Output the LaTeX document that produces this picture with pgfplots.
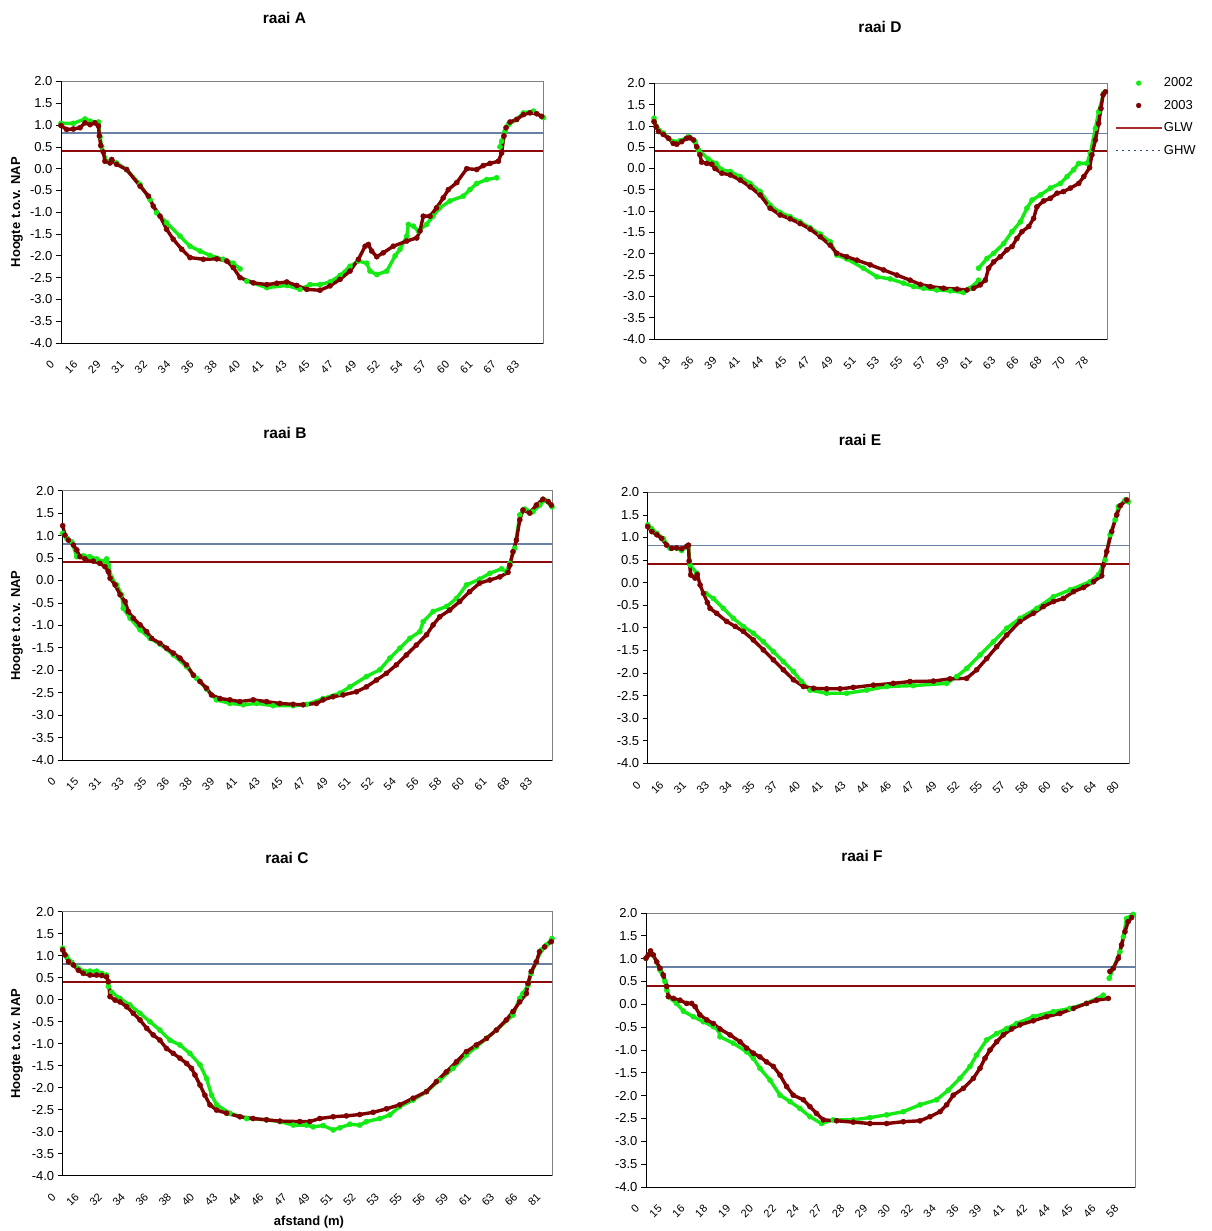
\documentclass[border=0pt]{standalone}
\usepackage{fontspec}
\setmainfont{Liberation Sans}
\usepackage{pgfplots}
\usepackage{pgfplotstable}
\pgfplotsset{compat=1.18}

\definecolor{cg}{RGB}{20,235,20}
\definecolor{cr}{RGB}{128,0,0}
\definecolor{ghw}{RGB}{105,128,165}
\definecolor{glw}{RGB}{140,10,10}
\definecolor{frame}{RGB}{128,128,128}
\definecolor{glwleg}{RGB}{165,45,45}
\definecolor{ghwleg}{RGB}{50,75,130}

\newcommand{\tickfont}{\fontsize{13}{15}\selectfont}
\newcommand{\xtickfont}{\fontsize{11}{12.5}\selectfont}

% ---------------- raai A ----------------
\pgfplotstableread{
x y
0 1.04
0.53 1.04
1.03 1.14
1.25 1.09
1.61 1.07
1.68 0.73
1.75 0.50
1.96 0.17
2.39 0.13
2.82 -0.02
3.40 -0.36
3.83 -0.71
4.11 -1.01
4.54 -1.24
5.12 -1.55
5.55 -1.78
5.98 -1.89
6.41 -1.99
6.98 -2.08
7.41 -2.17
7.70 -2.30
nan nan
7.99 -2.58
8.85 -2.73
9.71 -2.68
10.28 -2.77
10.71 -2.66
11.14 -2.66
11.57 -2.60
12.00 -2.45
12.43 -2.24
12.79 -2.12
13.15 -2.17
13.29 -2.35
13.58 -2.43
14.01 -2.35
14.37 -2.00
14.58 -1.85
14.87 -1.55
14.94 -1.28
15.16 -1.32
15.37 -1.43
15.72 -1.28
16.00 -1.09
16.29 -0.90
16.73 -0.74
17.30 -0.63
17.59 -0.48
17.88 -0.34
18.31 -0.25
18.74 -0.21
nan nan
18.88 0.50
18.95 0.63
19.10 0.86
19.24 1.01
19.60 1.13
19.89 1.28
20.32 1.32
20.75 1.17
}\tAg
\pgfplotstableread{
x y
0 0.99
0.24 0.90
0.53 0.91
0.82 0.94
1.03 1.05
1.25 1.01
1.46 1.05
1.61 0.98
1.65 0.75
1.71 0.53
1.82 0.38
1.89 0.17
2.11 0.13
2.18 0.21
2.39 0.10
2.82 -0.02
3.40 -0.40
3.76 -0.63
3.97 -0.86
4.26 -1.09
4.54 -1.39
4.83 -1.62
5.19 -1.85
5.55 -2.04
6.12 -2.08
6.70 -2.07
7.13 -2.12
7.41 -2.27
7.70 -2.50
8.27 -2.62
8.85 -2.66
9.28 -2.63
9.71 -2.60
10.14 -2.68
10.57 -2.77
11.14 -2.79
11.57 -2.69
12.00 -2.54
12.43 -2.35
12.79 -2.08
13.08 -1.78
13.22 -1.74
13.36 -1.89
13.58 -2.02
13.86 -1.93
14.29 -1.78
14.87 -1.66
15.30 -1.59
15.44 -1.43
15.58 -1.09
15.87 -1.09
16.15 -0.90
16.44 -0.67
16.66 -0.48
17.02 -0.32
17.45 0.00
17.88 -0.02
18.16 0.07
18.45 0.12
18.81 0.17
18.95 0.36
19.05 0.75
19.14 0.94
19.31 1.07
19.60 1.13
19.89 1.24
20.17 1.28
20.46 1.26
20.67 1.20
}\tAr

% ---------------- raai D ----------------
\pgfplotstableread{
x y
0 1.18
0.11 0.98
0.40 0.83
0.83 0.63
1.12 0.65
1.48 0.75
1.77 0.63
1.91 0.44
2.34 0.22
2.67 0.12
2.92 -0.03
3.28 -0.07
3.71 -0.19
4.14 -0.35
4.57 -0.54
5.00 -0.86
5.43 -1.03
5.86 -1.13
6.29 -1.25
6.72 -1.39
7.16 -1.54
7.59 -1.72
7.87 -2.03
8.30 -2.12
9.02 -2.34
9.60 -2.54
10.17 -2.59
10.75 -2.69
11.18 -2.77
11.61 -2.81
12.18 -2.85
12.76 -2.87
13.33 -2.91
13.62 -2.81
13.98 -2.62
nan nan
13.98 -2.34
14.34 -2.11
14.63 -1.99
15.06 -1.76
15.42 -1.48
15.78 -1.25
16.06 -0.93
16.28 -0.74
16.64 -0.62
17.07 -0.46
17.50 -0.35
17.79 -0.19
18.07 -0.03
18.29 0.12
18.65 0.12
18.79 0.36
19.01 0.94
19.15 1.33
19.37 1.77
}\tDg
\pgfplotstableread{
x y
0 1.10
0.09 0.98
0.19 0.87
0.40 0.80
0.62 0.71
0.83 0.59
0.98 0.57
1.19 0.63
1.41 0.71
1.55 0.72
1.70 0.67
1.84 0.51
1.98 0.32
2.05 0.15
2.27 0.12
2.49 0.10
2.63 0.00
2.92 -0.11
3.28 -0.15
3.71 -0.27
4.14 -0.43
4.57 -0.62
5.00 -0.93
5.43 -1.09
5.86 -1.18
6.29 -1.29
6.72 -1.42
7.16 -1.60
7.59 -1.80
7.87 -1.99
8.30 -2.07
8.74 -2.15
9.31 -2.26
9.89 -2.38
10.46 -2.50
11.03 -2.62
11.47 -2.72
11.90 -2.77
12.47 -2.81
13.05 -2.83
13.48 -2.85
13.76 -2.81
14.05 -2.73
14.27 -2.62
14.41 -2.34
14.63 -2.19
14.91 -2.07
15.20 -1.91
15.42 -1.83
15.63 -1.64
15.85 -1.48
16.14 -1.36
16.35 -1.17
16.49 -0.90
16.78 -0.76
17.07 -0.70
17.36 -0.58
17.64 -0.54
17.93 -0.46
18.29 -0.35
18.51 -0.19
18.76 0.02
18.86 0.32
19.01 0.67
19.15 1.06
19.25 1.41
19.34 1.73
19.44 1.80
}\tDr

% ---------------- raai B ----------------
\pgfplotstableread{
x y
0 1.05
0.18 0.94
0.40 0.86
0.62 0.53
0.91 0.55
1.20 0.53
1.50 0.48
1.79 0.42
1.94 0.48
2.01 0.34
2.16 0.05
2.38 -0.10
2.60 -0.32
2.67 -0.62
2.97 -0.84
3.41 -1.10
3.85 -1.29
4.29 -1.42
4.88 -1.66
5.46 -1.92
5.90 -2.18
6.34 -2.42
6.78 -2.66
7.37 -2.74
7.96 -2.77
8.55 -2.74
9.28 -2.79
10.16 -2.79
10.75 -2.76
11.48 -2.63
12.22 -2.51
12.66 -2.37
13.39 -2.14
13.98 -1.99
14.42 -1.73
14.86 -1.51
15.30 -1.29
15.74 -1.14
15.89 -0.92
16.33 -0.69
16.92 -0.58
17.36 -0.40
17.80 -0.10
18.38 0.03
18.83 0.16
19.34 0.26
19.56 0.20
19.71 0.38
19.93 0.72
20.15 1.46
20.37 1.59
20.73 1.53
21.03 1.68
21.25 1.79
21.57 1.64
}\tBg
\pgfplotstableread{
x y
0 1.22
0.10 1.01
0.25 0.90
0.47 0.79
0.62 0.68
0.76 0.53
0.98 0.48
1.35 0.43
1.64 0.38
1.86 0.31
2.01 0.20
2.09 0.05
2.31 -0.10
2.53 -0.32
2.75 -0.47
2.89 -0.69
3.11 -0.84
3.41 -0.99
3.70 -1.14
3.92 -1.29
4.29 -1.40
4.58 -1.51
4.88 -1.62
5.17 -1.73
5.46 -1.88
5.76 -2.11
6.05 -2.25
6.34 -2.40
6.56 -2.55
6.93 -2.63
7.37 -2.66
7.81 -2.70
8.40 -2.66
8.99 -2.70
9.57 -2.74
10.16 -2.76
10.60 -2.77
11.19 -2.74
11.48 -2.66
11.92 -2.59
12.36 -2.55
12.95 -2.48
13.39 -2.37
13.83 -2.22
14.27 -2.07
14.71 -1.88
15.15 -1.66
15.59 -1.44
16.04 -1.21
16.33 -0.99
16.62 -0.81
17.06 -0.66
17.50 -0.47
17.94 -0.25
18.38 -0.06
18.83 0.01
19.27 0.08
19.63 0.18
19.71 0.34
19.85 0.64
20.00 0.90
20.15 1.35
20.29 1.57
20.59 1.50
20.88 1.68
21.17 1.81
21.40 1.76
21.54 1.68
}\tBr

% ---------------- raai E ----------------
\pgfplotstableread{
x y
0 1.28
0.18 1.19
0.40 1.09
0.69 0.97
0.98 0.76
1.27 0.76
1.49 0.71
1.71 0.80
1.79 0.82
1.86 0.39
2.15 0.21
nan nan
2.56 -0.24
2.88 -0.35
3.32 -0.57
3.76 -0.79
4.20 -0.97
4.64 -1.12
5.08 -1.31
5.52 -1.53
5.96 -1.75
6.40 -1.97
6.76 -2.19
7.13 -2.38
7.86 -2.45
8.74 -2.45
9.62 -2.38
10.50 -2.30
11.67 -2.28
13.13 -2.23
13.57 -2.08
14.01 -1.90
14.60 -1.60
15.18 -1.31
15.77 -1.01
16.35 -0.79
17.09 -0.57
17.82 -0.31
18.55 -0.16
19.43 0.02
19.80 0.18
20.09 0.50
20.31 1.06
20.53 1.39
20.67 1.68
20.97 1.83
21.11 1.79
}\tEg
\pgfplotstableread{
x y
0 1.24
0.18 1.13
0.40 1.06
0.61 0.98
0.83 0.83
1.05 0.76
1.27 0.77
1.49 0.75
1.71 0.80
1.79 0.83
1.82 0.48
1.89 0.17
2.08 0.10
2.18 0.18
2.30 -0.05
2.45 -0.24
2.62 -0.44
2.74 -0.57
3.03 -0.68
3.47 -0.86
3.84 -0.97
4.20 -1.08
4.64 -1.27
5.08 -1.49
5.52 -1.71
5.96 -1.93
6.40 -2.15
6.84 -2.30
7.28 -2.34
7.86 -2.35
8.45 -2.35
9.03 -2.32
9.91 -2.27
10.79 -2.23
11.52 -2.19
12.55 -2.18
13.28 -2.13
14.01 -2.12
14.45 -1.93
14.89 -1.68
15.33 -1.42
15.77 -1.16
16.35 -0.86
16.94 -0.68
17.38 -0.53
17.82 -0.42
18.26 -0.35
18.70 -0.20
19.14 -0.11
19.58 0.02
19.94 0.15
20.01 0.39
20.16 0.69
20.38 1.13
20.60 1.50
20.75 1.70
21.04 1.83
}\tEr

% ---------------- raai C ----------------
\pgfplotstableread{
x y
0 1.17
0.17 0.98
0.39 0.85
0.68 0.71
0.97 0.64
1.18 0.65
1.47 0.65
1.69 0.60
1.90 0.56
1.98 0.30
2.12 0.17
2.48 0.03
2.91 -0.12
3.35 -0.31
3.78 -0.50
4.21 -0.69
4.65 -0.92
5.08 -1.03
5.51 -1.22
5.95 -1.48
6.23 -1.79
6.45 -2.17
6.67 -2.39
7.24 -2.58
7.97 -2.70
8.83 -2.73
9.41 -2.77
9.99 -2.85
10.56 -2.85
10.85 -2.89
11.28 -2.86
11.72 -2.96
12.01 -2.91
12.44 -2.83
12.87 -2.85
13.16 -2.77
13.74 -2.70
14.17 -2.62
14.60 -2.43
15.18 -2.28
15.76 -2.09
16.33 -1.83
16.91 -1.56
17.49 -1.26
17.92 -1.07
18.36 -0.88
18.79 -0.69
19.51 -0.35
19.80 0.03
19.94 0.14
20.16 0.33
20.30 0.60
20.52 0.86
20.74 1.13
20.95 1.24
21.20 1.39
}\tCg
\pgfplotstableread{
x y
0 1.13
0.10 1.02
0.25 0.86
0.46 0.79
0.68 0.67
0.89 0.60
1.18 0.56
1.47 0.56
1.69 0.55
1.90 0.52
1.98 0.41
2.05 0.07
2.27 -0.01
2.48 -0.05
2.77 -0.16
3.06 -0.31
3.35 -0.46
3.64 -0.65
3.92 -0.80
4.21 -0.92
4.50 -1.11
4.79 -1.22
5.08 -1.33
5.37 -1.45
5.58 -1.56
5.73 -1.71
5.95 -1.94
6.16 -2.17
6.38 -2.39
6.67 -2.51
7.10 -2.58
7.68 -2.66
8.25 -2.70
8.83 -2.73
9.41 -2.76
10.27 -2.77
10.71 -2.77
11.14 -2.70
11.72 -2.66
12.29 -2.64
12.87 -2.61
13.45 -2.56
14.03 -2.48
14.60 -2.39
15.18 -2.24
15.76 -2.09
16.19 -1.86
16.62 -1.64
17.06 -1.41
17.49 -1.18
17.92 -1.03
18.36 -0.88
18.79 -0.69
19.22 -0.46
19.51 -0.27
19.80 -0.05
20.09 0.14
20.16 0.37
20.30 0.64
20.52 0.86
20.66 1.09
20.88 1.20
21.17 1.32
}\tCr

% ---------------- raai F ----------------
\pgfplotstableread{
x y
0 1.01
0.18 1.12
0.32 1.08
0.61 0.75
0.83 0.50
0.91 0.31
0.98 0.17
1.34 0.02
1.64 -0.15
2.07 -0.27
2.51 -0.38
2.95 -0.49
3.17 -0.56
3.24 -0.71
3.82 -0.85
4.41 -1.04
4.70 -1.18
4.99 -1.40
5.43 -1.66
5.87 -1.99
6.31 -2.13
6.74 -2.28
7.18 -2.46
7.69 -2.61
8.20 -2.53
9.08 -2.53
9.81 -2.48
10.54 -2.42
11.27 -2.35
12.00 -2.20
12.73 -2.09
13.24 -1.88
13.75 -1.62
14.19 -1.36
14.48 -1.11
14.92 -0.78
15.36 -0.64
15.80 -0.53
16.23 -0.42
16.96 -0.27
17.84 -0.16
18.57 -0.09
19.30 0.02
20.03 0.20
nan nan
20.29 0.57
20.47 0.79
20.76 1.15
20.91 1.48
21.05 1.88
21.34 1.97
}\tFg
\pgfplotstableread{
x y
0 1.01
0.10 1.08
0.20 1.17
0.32 1.08
0.47 0.93
0.61 0.79
0.76 0.64
0.91 0.39
0.98 0.17
1.20 0.13
1.49 0.09
1.78 0.02
2.00 0.02
2.15 -0.05
2.36 -0.23
2.66 -0.34
2.95 -0.42
3.24 -0.54
3.68 -0.67
4.12 -0.82
4.41 -0.96
4.70 -1.07
4.99 -1.15
5.28 -1.26
5.58 -1.36
5.87 -1.55
6.16 -1.80
6.45 -1.99
6.89 -2.09
7.18 -2.24
7.47 -2.39
7.77 -2.53
8.35 -2.55
9.08 -2.58
9.81 -2.61
10.54 -2.61
11.27 -2.57
12.00 -2.55
12.44 -2.46
12.88 -2.35
13.17 -2.20
13.46 -1.99
13.90 -1.84
14.34 -1.62
14.63 -1.40
14.85 -1.18
15.07 -1.00
15.36 -0.82
15.65 -0.67
16.01 -0.54
16.38 -0.45
16.96 -0.36
17.55 -0.27
18.13 -0.20
18.72 -0.09
19.30 0.02
19.74 0.09
20.25 0.13
nan nan
20.32 0.72
20.47 0.79
20.69 1.01
20.83 1.30
20.98 1.59
21.12 1.81
21.27 1.90
}\tFr

\pgfplotsset{
  panel/.style={
    scale only axis, clip=false, anchor=south west,
    ymin=-4, ymax=2,
    ytick={-4,-3.5,-3,-2.5,-2,-1.5,-1,-0.5,0,0.5,1,1.5,2},
    yticklabel style={font=\tickfont, /pgf/number format/.cd, fixed, fixed zerofill, precision=1, assume math mode=true},
    xmin=0,
    xticklabel style={font=\xtickfont, xshift=-8pt, yshift=-14pt, rotate=45, anchor=east, inner sep=1pt},
    xtick style={draw=none},
    ytick style={black, line width=0.7pt},
    tick align=outside, major tick length=5pt,
    axis line style={draw=frame, line width=0.8pt},
    tick pos=left,
  },
}

\newcommand{\series}[2]{%
  \addplot[forget plot, color=#1, line width=3.4pt, unbounded coords=jump, line join=round, line cap=round] table {#2};
  \addplot[forget plot, color=#1, only marks, mark=*, mark size=2.6pt, mark options={solid, fill=#1, draw=#1}] table {#2};
}
\newcommand{\hlines}[1]{%
  \addplot[forget plot, ghw, line width=1.8pt] coordinates {(0,0.82) (#1,0.82)};
  \addplot[forget plot, glw, line width=1.8pt] coordinates {(0,0.41) (#1,0.41)};
}
\newcommand{\blackaxes}{%
  \draw[black, line width=0.8pt] (rel axis cs:0,1) -- (rel axis cs:0,0) -- (rel axis cs:1,0);
}

\begin{document}
\begin{tikzpicture}

% raai A
\begin{axis}[panel, at={(61pt,888pt)}, width=482pt, height=261.5pt, xmax=20.73,
  xtick={0,...,20},
  xticklabels={0,16,29,31,32,34,36,38,40,41,43,45,47,49,52,54,57,60,61,67,83}]
\hlines{20.73}
\series{cg}{\tAg}
\series{cr}{\tAr}
\blackaxes
\end{axis}

% raai D
\begin{axis}[panel, at={(654pt,892pt)}, width=453pt, height=255.7pt, xmax=19.51,
  xtick={0,...,19},
  xticklabels={0,18,36,39,41,44,45,47,49,51,53,55,57,59,61,63,66,68,70,78},
  legend style={draw=none, fill=none, at={(axis description cs:1.017,1.028)}, anchor=north west,
    font=\tickfont, row sep=8.8pt, inner sep=0pt, nodes={inner sep=1.5pt}},
  legend cell align=left]
\addlegendimage{legend image code/.code={\fill[cg] (23pt,0pt) circle (2.4pt);}}
\addlegendentry{2002}
\addlegendimage{legend image code/.code={\fill[cr] (23pt,0pt) circle (2.4pt);}}
\addlegendentry{2003}
\addlegendimage{legend image code/.code={\draw[glwleg, line width=1.5pt] (0pt,0pt) -- (46pt,0pt);}}
\addlegendentry{GLW}
\addlegendimage{legend image code/.code={\draw[ghwleg, line width=1.3pt, dash pattern=on 2pt off 4pt] (0pt,0pt) -- (46pt,0pt);}}
\addlegendentry{GHW}
\hlines{19.51}
\series{cg}{\tDg}
\series{cr}{\tDr}
\blackaxes
\end{axis}

% raai B
\begin{axis}[panel, at={(62.7pt,471pt)}, width=489.3pt, height=269.3pt, xmax=21.57,
  xtick={0,...,21},
  xticklabels={0,15,31,33,35,36,38,39,41,43,45,47,49,51,52,54,56,58,60,61,68,83}]
\hlines{21.57}
\series{cg}{\tBg}
\series{cr}{\tBr}
\blackaxes
\end{axis}

% raai E
\begin{axis}[panel, at={(647.7pt,467.7pt)}, width=481.3pt, height=271pt, xmax=21.14,
  xtick={0,...,21},
  xticklabels={0,16,31,33,34,35,37,40,41,43,44,46,47,49,52,55,57,58,60,61,64,80}]
\hlines{21.14}
\series{cg}{\tEg}
\series{cr}{\tEr}
\blackaxes
\end{axis}

% raai C
\begin{axis}[panel, at={(62.7pt,55.3pt)}, width=489.3pt, height=264pt, xmax=21.2,
  xtick={0,...,21},
  xticklabels={0,16,32,34,36,38,40,43,44,46,47,49,51,52,53,55,56,59,61,63,66,81}]
\hlines{21.2}
\series{cg}{\tCg}
\series{cr}{\tCr}
\blackaxes
\end{axis}

% raai F
\begin{axis}[panel, at={(646pt,44pt)}, width=489pt, height=274pt, xmax=21.42,
  xtick={0,...,21},
  xticklabels={0,15,16,18,19,20,22,24,27,28,29,30,32,34,36,39,41,42,44,45,46,58}]
\hlines{21.42}
\series{cg}{\tFg}
\series{cr}{\tFr}
\blackaxes
\end{axis}

% titles and axis labels
\begin{scope}[every node/.style={font=\fontsize{15.5}{17}\selectfont\bfseries}]
\node at (284.5pt,1213pt) {raai A};
\node at (880pt,1204pt) {raai D};
\node at (285pt,798pt) {raai B};
\node at (860pt,791pt) {raai E};
\node at (287pt,373pt) {raai C};
\node at (862pt,375pt) {raai F};
\end{scope}
\begin{scope}[every node/.style={font=\fontsize{13}{15}\selectfont\bfseries}]
\node[rotate=90] at (17pt,1018.7pt) {Hoogte t.o.v. NAP};
\node[rotate=90] at (17pt,605.6pt) {Hoogte t.o.v. NAP};
\node[rotate=90] at (17pt,187.3pt) {Hoogte t.o.v. NAP};
\node at (309pt,9pt) {afstand (m)};
\end{scope}

\pgfresetboundingbox
\path[use as bounding box] (0pt,0pt) rectangle (1211pt,1231pt);
\end{tikzpicture}
\end{document}
